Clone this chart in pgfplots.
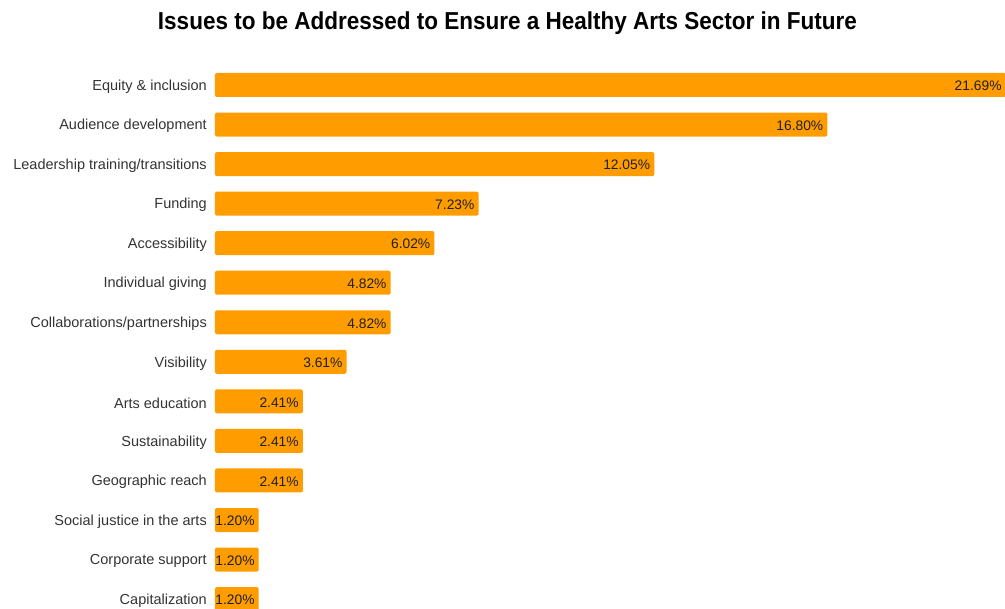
\documentclass[border=0pt]{standalone}
\usepackage{pgfplots}
\pgfplotsset{compat=1.18}
\usepackage{pgfplotstable}
\usepackage{fontspec}
\setmainfont{Liberation Sans}
\definecolor{barorange}{RGB}{255,157,0}
\definecolor{labelgray}{RGB}{51,51,51}
\pgfplotstableread{
idx val
0 21.69
1 16.80
2 12.05
3 7.23
4 6.02
5 4.82
6 4.82
7 3.61
8 2.41
9 2.41
10 2.41
11 1.20
12 1.20
13 1.20
}\data
\begin{document}
\begin{tikzpicture}[x=1pt,y=1pt]
\useasboundingbox (0,0) rectangle (1005,609);
\node[font=\fontsize{24.5}{28}\selectfont\bfseries, text=black] at (507.5,586) {\resizebox{699pt}{\height}{Issues to be Addressed to Ensure a Healthy Arts Sector in Future}};
\begin{axis}[
  at={(215pt,543.8pt)}, anchor=north west,
  scale only axis, width=790pt, height=553.7pt,
  xbar, bar width=24pt,
  xmin=0, xmax=21.67,
  ymin=-0.5, ymax=13.5, y dir=reverse,
  axis line style={draw=none},
  major tick length=0pt,
  xtick=\empty,
  ytick={0,...,13},
  yticklabels={Equity \& inclusion, Audience development, Leadership training/transitions, Funding, Accessibility, Individual giving, Collaborations/partnerships, Visibility, Arts education, Sustainability, Geographic reach, Social justice in the arts, Corporate support, Capitalization},
  yticklabel style={font=\fontsize{14.5}{17}\selectfont, text=labelgray, inner sep=0pt, yshift=-1.5pt},
  yticklabel shift=8pt,
  clip=false,
  point meta=x,
  nodes near coords={\pgfmathprintnumber[fixed, fixed zerofill, precision=2]{\pgfplotspointmeta}\%},
  /pgf/number format/assume math mode=true,
  every node near coord/.append style={anchor=east, font=\fontsize{13.8}{16}\selectfont, text=black!88, inner sep=2pt, xshift=-2pt, yshift=-1pt},
]
\addplot[fill=barorange, draw=none, rounded corners=2pt] table[x=val, y=idx] {\data};
\end{axis}
\end{tikzpicture}
\end{document}
